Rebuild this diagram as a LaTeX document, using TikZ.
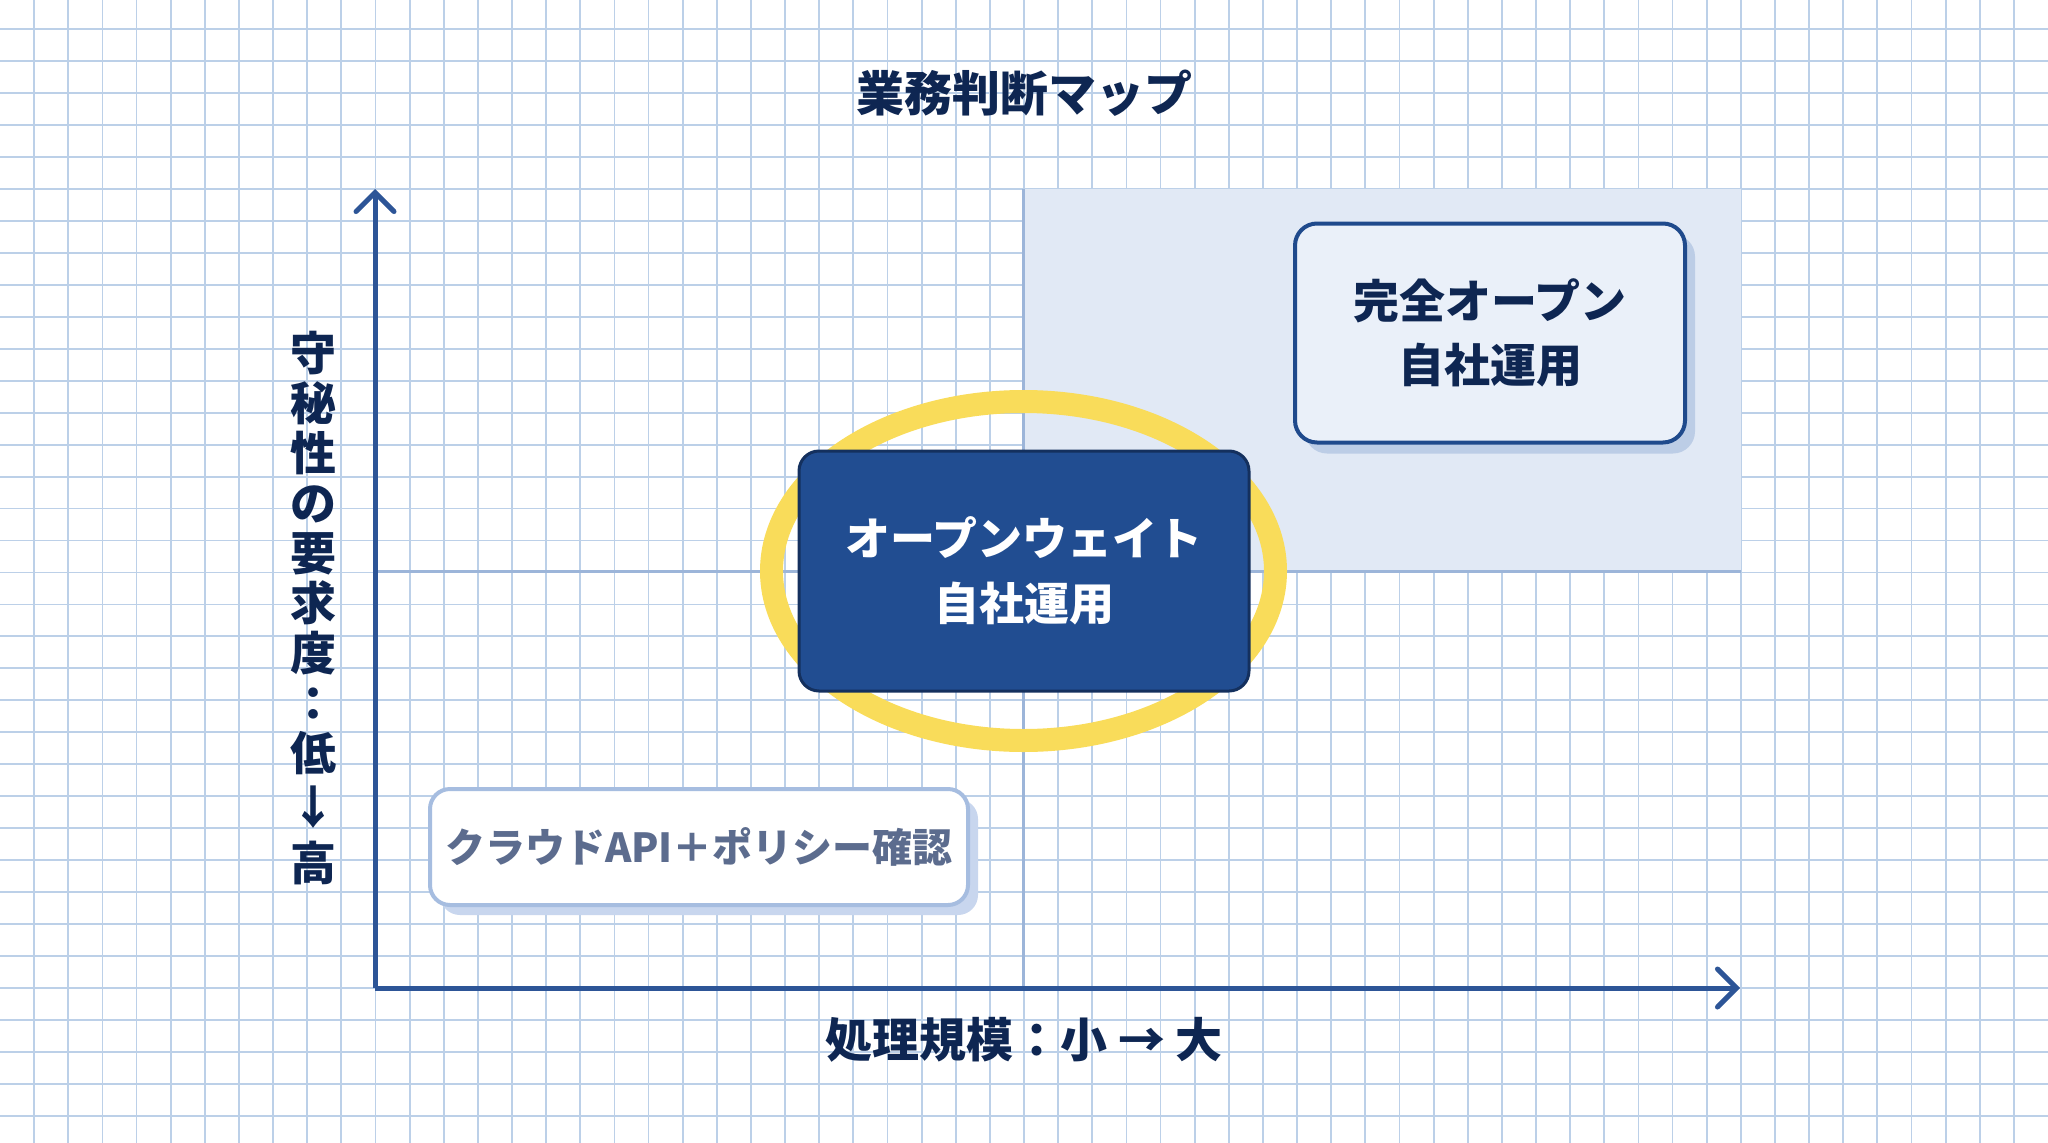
\documentclass[tikz,border=0pt]{standalone}
\usepackage{fontspec}
\setmainfont{Noto Sans CJK JP}
\usetikzlibrary{arrows.meta,shadows}
\definecolor{gridc}{HTML}{BCD0E8}
\definecolor{midc}{HTML}{9CB5D9}
\definecolor{axisc}{HTML}{2D5597}
\definecolor{shadec}{HTML}{E1E9F5}
\definecolor{ellc}{HTML}{F9DC5A}
\definecolor{navy}{HTML}{0E2652}
\definecolor{darkbox}{HTML}{214D91}
\definecolor{darkboxline}{HTML}{14305E}
\definecolor{trfill}{HTML}{EAF0F9}
\definecolor{trline}{HTML}{1F4A8C}
\definecolor{trshadow}{HTML}{BCCDE6}
\definecolor{blline}{HTML}{A6BDE0}
\definecolor{blshadow}{HTML}{C8D6EE}
\definecolor{bltext}{HTML}{5C6C8E}
\begin{document}
\begin{tikzpicture}[x=1pt,y=-1pt,
  gridline/.style={draw=gridc,line width=1.8pt},
  midline/.style={draw=midc,line width=3pt},
  axisline/.style={draw=axisc,line width=5pt,-{Straight Barb[length=19pt,width=38pt,line cap=round]}},
  basebox/.style={rounded corners=20pt,align=center,inner sep=0pt,font=\bfseries},
  darkstyle/.style={basebox,fill=darkbox,draw=darkboxline,line width=3pt,text=white,
    minimum width=450pt,minimum height=240pt,font=\bfseries\fontsize{45}{65}\selectfont},
  trstyle/.style={basebox,fill=trfill,draw=trline,line width=4pt,text=navy,
    minimum width=390pt,minimum height=219pt,rounded corners=22pt,
    general shadow={fill=trshadow,shadow xshift=10pt,shadow yshift=-11pt},
    font=\bfseries\fontsize{46}{64}\selectfont},
  blstyle/.style={basebox,fill=white,draw=blline,line width=4pt,text=bltext,
    minimum width=538pt,minimum height=116pt,
    general shadow={fill=blshadow,shadow xshift=10pt,shadow yshift=-10pt},
    font=\bfseries\fontsize{40}{48}\selectfont},
  labelstyle/.style={text=navy,inner sep=0pt,align=center}
]
\useasboundingbox (0,0) rectangle (2048,1143);
\fill[white] (0,0) rectangle (2048,1143);
% grid
\foreach \k in {1,...,59} \draw[gridline] ({\k*34.1333},0) -- ({\k*34.1333},1143);
\foreach \k in {0,...,34} \draw[gridline] (0,{29.3+\k*31.95}) -- (2048,{29.3+\k*31.95});
% shaded quadrant
\fill[shadec] (1023,189) rectangle (1741,571);
% coordinates
\coordinate (O) at (375,988);
\coordinate (ytop) at (375,189);
\coordinate (xend) at (1740,988);
\coordinate (mtop) at (1023,189);
\coordinate (mbot) at (1023,988);
\coordinate (mleft) at (375,571);
\coordinate (mright) at (1741,571);
% mid lines
\draw[midline] (mtop) -- (mbot);
\draw[midline] (mleft) -- (mright);
% axes
\draw[axisline] (O) -- (ytop);
\draw[axisline] (O) -- (xend);
% highlight ellipse
\draw[ellc,line width=23pt] (1023.5,571) ellipse [x radius=252, y radius=169.5];
% boxes
\node[darkstyle] (ow) at (1024,571) {オープンウェイト\\自社運用};
\node[trstyle] (full) at (1490,333) {完全オープン\\自社運用};
\node[blstyle] (cloud) at (699,847) {クラウドAPI＋ポリシー確認};
% labels
\node[labelstyle,font=\bfseries\fontsize{48}{56}\selectfont] (title) at (1024,93) {業務判断マップ};
\node[labelstyle,font=\bfseries\fontsize{47}{56}\selectfont] (xlab) at (1024,1040) {処理規模：小 → 大};
\node[labelstyle,font=\bfseries\fontsize{46}{50}\selectfont] (ylab) at (313,608)
  {守\\秘\\性\\の\\要\\求\\度\\：\\低\\[4pt]↓\\[6pt]高};
\end{tikzpicture}
\end{document}
